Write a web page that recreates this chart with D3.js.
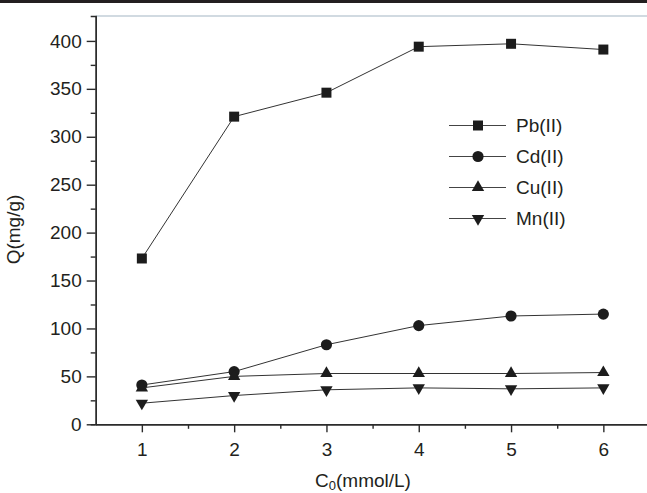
<!DOCTYPE html>
<html lang="en">
<head><meta charset="utf-8">
<title>Q vs C0</title>
<style>
body {
  margin: 0;
  background: #ffffff;
}
svg {
  display: block;
  font-family: "Liberation Sans", Arial, sans-serif;
}
.axis text {
  font-size: 19px;
  fill: #231f20;
}
.axis path, .axis line {
  stroke: #2b2b2b;
  stroke-width: 1.4px;
}
.series {
  fill: none;
  stroke: #333333;
  stroke-width: 1px;
}
</style>
</head>
<body>
<svg></svg>
<script src="https://cdn.jsdelivr.net/npm/d3@7"></script>
<script>

// concentrations (mmol/L)
var conc = [1, 2, 3, 4, 5, 6];

// adsorption capacity Q (mg/g) per metal
var pb = [173, 321, 346, 394, 397, 391];
var cd = [41, 55, 83, 103, 113, 115];
var cu = [38, 50, 53, 53, 53, 54];
var mn = [22, 30, 36, 38, 37, 38];

var seriesNames = ["Pb(II)", "Cd(II)", "Cu(II)", "Mn(II)"];
var yTicks = [0, 50, 100, 150, 200, 250, 300, 350, 400];
var xTicks = [1, 2, 3, 4, 5, 6];

var width = 647,
    height = 493;

var svg = d3.select("svg")
    .attr("width", width)
    .attr("height", height);

// plot frame (right side runs off the picture)
var x = d3.scaleLinear().domain([0.5, 6.5]).range([95.7, 649.5]);
var y = d3.scaleLinear().domain([0, 426]).range([424.3, 16]);

// black strip on top
svg.append("rect")
    .attr("x", 0).attr("y", 0)
    .attr("width", width).attr("height", 3)
    .attr("fill", "#231f20");

// top frame line
svg.append("line")
    .attr("x1", x(0.5)).attr("x2", width)
    .attr("y1", y(426)).attr("y2", y(426))
    .attr("stroke", "#a3b5c3")
    .attr("stroke-width", 1.2);

// minor ticks
var minorY = d3.range(25, 400, 50);
var minorX = d3.range(1.5, 6, 1);

svg.append("g")
    .attr("class", "axis")
    .attr("transform", "translate(" + x(0.5) + ",0)")
    .call(d3.axisLeft(y).tickValues(minorY).tickSize(5).tickSizeOuter(0).tickFormat(""));

svg.append("g")
    .attr("class", "axis")
    .attr("transform", "translate(0," + y(0) + ")")
    .call(d3.axisBottom(x).tickValues(minorX).tickSize(4.5).tickSizeOuter(0).tickFormat(""));

// major axes
svg.append("g")
    .attr("class", "axis")
    .attr("transform", "translate(" + x(0.5) + ",0)")
    .call(d3.axisLeft(y).tickValues(yTicks).tickSize(9).tickSizeOuter(5).tickPadding(5));

svg.append("g")
    .attr("class", "axis")
    .attr("transform", "translate(0," + y(0) + ")")
    .call(d3.axisBottom(x).tickValues(xTicks).tickFormat(d3.format("d"))
        .tickSize(8).tickSizeOuter(0).tickPadding(10));

// axis titles
svg.append("text")
    .attr("transform", "translate(19.5,229.5) rotate(-90)")
    .attr("text-anchor", "middle")
    .attr("font-size", 19)
    .attr("fill", "#231f20")
    .text("Q(mg/g)");

var xt = svg.append("text")
    .attr("x", 363)
    .attr("y", 487)
    .attr("text-anchor", "middle")
    .attr("font-size", 19)
    .attr("fill", "#231f20");
xt.append("tspan").text("C");
xt.append("tspan").attr("font-size", 13).attr("dy", 3).text("0");
xt.append("tspan").attr("dy", -3).text("(mmol/L)");

// series
var data = [pb, cd, cu, mn];
var symbols = [
  {type: d3.symbolSquare, size: 100, rot: 0},
  {type: d3.symbolCircle, size: 98, rot: 0},
  {type: d3.symbolTriangle, size: 66, rot: 0},
  {type: d3.symbolTriangle, size: 66, rot: 180}
];

var line = d3.line()
    .x(function(d, i) { return x(conc[i]); })
    .y(function(d) { return y(d); });

data.forEach(function(vals, k) {
  svg.append("path")
      .attr("class", "series")
      .attr("d", line(vals));

  svg.selectAll(".pt" + k)
    .data(vals)
    .enter().append("path")
      .attr("class", "pt" + k)
      .attr("transform", function(d, i) {
        return "translate(" + x(conc[i]) + "," + y(d) + ") rotate(" + symbols[k].rot + ")";
      })
      .attr("d", d3.symbol().type(symbols[k].type).size(symbols[k].size))
      .attr("fill", "#1c1c1c");
});

// legend
var legend = svg.append("g")
    .attr("transform", "translate(449,125.5)");

seriesNames.forEach(function(name, k) {
  var g = legend.append("g").attr("transform", "translate(0," + (k * 31) + ")");
  g.append("line")
      .attr("x1", 0).attr("x2", 57)
      .attr("stroke", "#444444")
      .attr("stroke-width", 1);
  g.append("path")
      .attr("transform", "translate(29,0) rotate(" + symbols[k].rot + ")")
      .attr("d", d3.symbol().type(symbols[k].type).size(symbols[k].size))
      .attr("fill", "#1c1c1c");
  g.append("text")
      .attr("x", 67)
      .attr("dy", "0.36em")
      .attr("font-size", 19)
      .attr("fill", "#231f20")
      .text(name);
});

</script>
</body>
</html>
